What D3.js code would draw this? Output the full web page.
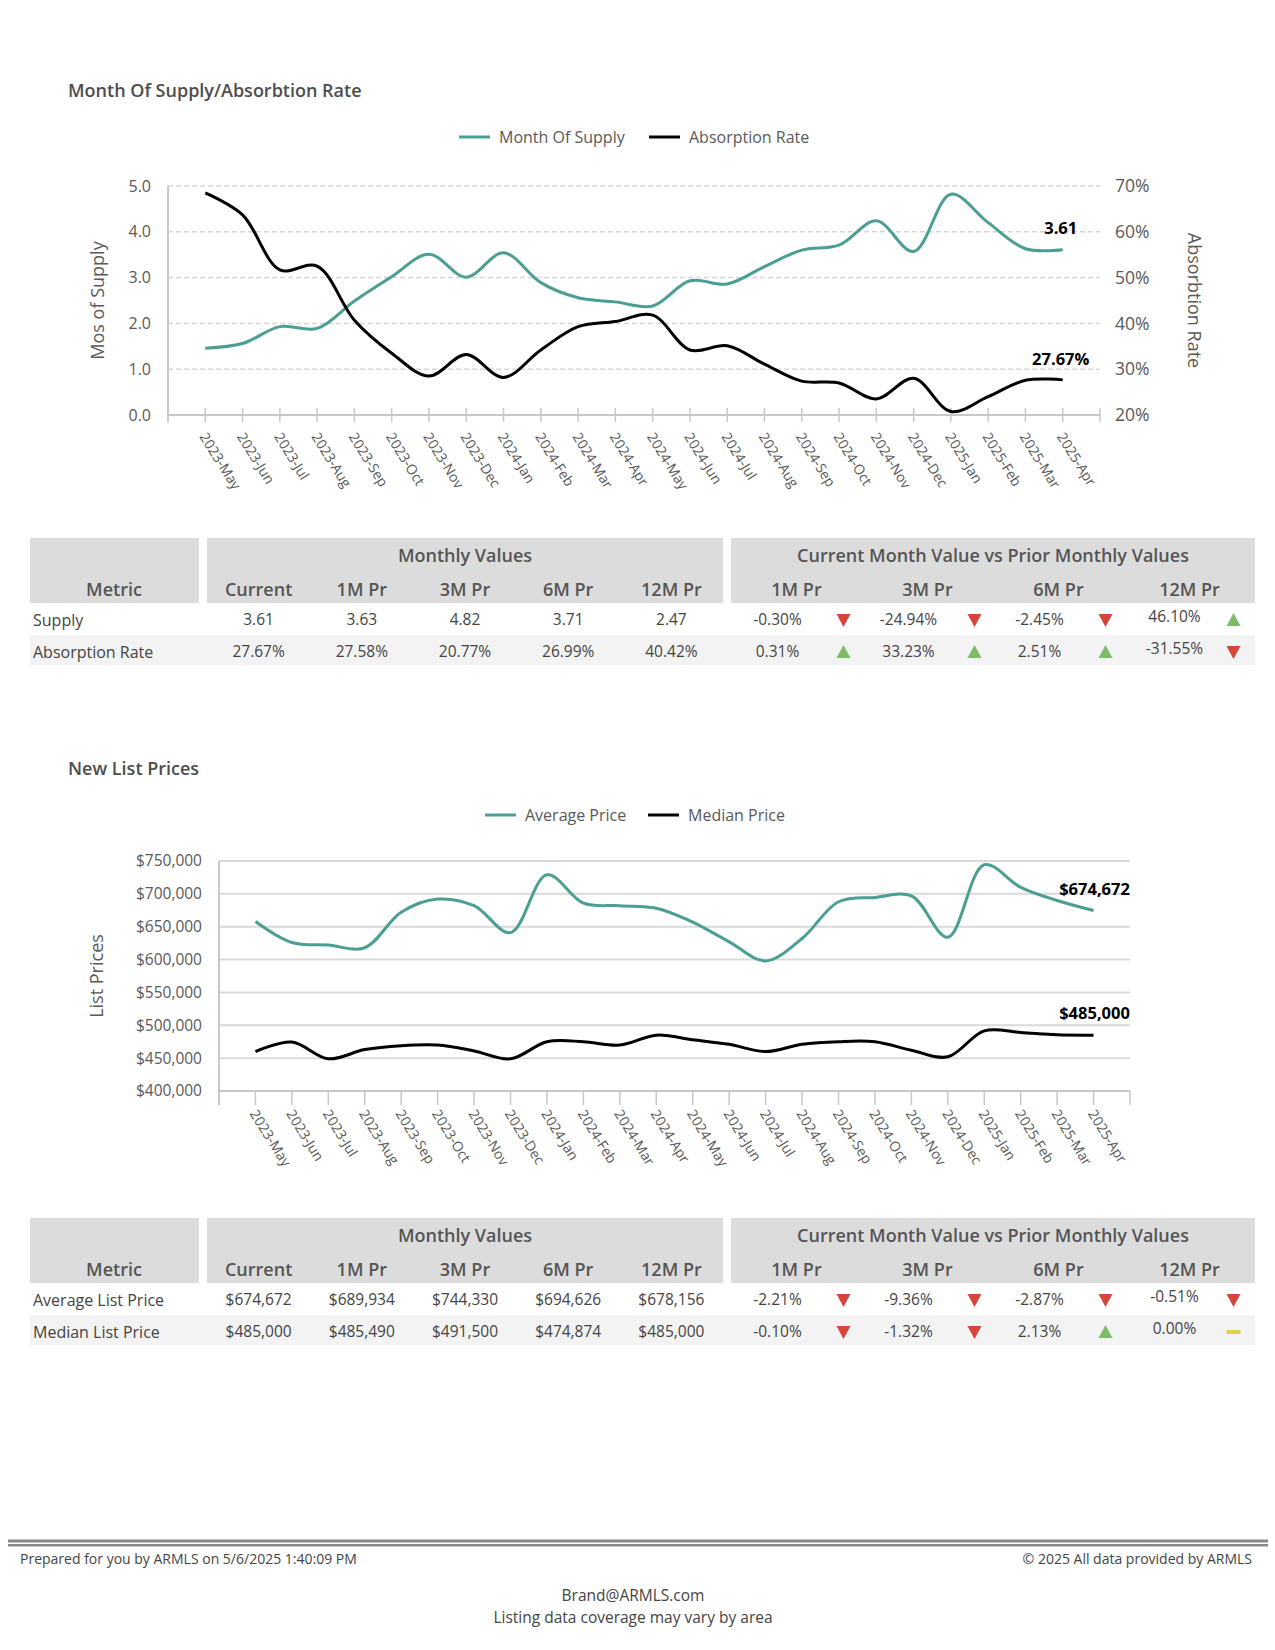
<!DOCTYPE html>
<html>
<head>
<meta charset="utf-8">
<script src="https://cdn.jsdelivr.net/npm/d3@7"></script>
<style>
  body { margin: 0; background: #fff; }
  svg { display: block; font-family: "Open Sans", "Noto Sans", sans-serif; }
</style>
</head>
<body>
<script>
// ---- data ----
let months = ["2023-May","2023-Jun","2023-Jul","2023-Aug","2023-Sep","2023-Oct","2023-Nov","2023-Dec",
  "2024-Jan","2024-Feb","2024-Mar","2024-Apr","2024-May","2024-Jun","2024-Jul","2024-Aug","2024-Sep",
  "2024-Oct","2024-Nov","2024-Dec","2025-Jan","2025-Feb","2025-Mar","2025-Apr"];

let supply = [1.46, 1.56, 1.93, 1.89, 2.49, 3.02, 3.51, 3.01, 3.54, 2.89, 2.56, 2.47,
  2.38, 2.93, 2.86, 3.24, 3.60, 3.71, 4.24, 3.57, 4.82, 4.20, 3.63, 3.61];
let absorption = [68.5, 63.7, 51.7, 52.5, 40.7, 33.5, 28.5, 33.2, 28.2, 34.2, 39.3, 40.42,
  41.8, 34.2, 35.1, 31.1, 27.4, 26.99, 23.5, 28.0, 20.77, 24.0, 27.58, 27.67];

let avgPrice = [658000, 626000, 622000, 618000, 672000, 692000, 682000, 641000, 729000, 686000, 682000, 678156,
  657000, 627000, 598000, 632000, 688000, 694626, 697000, 634000, 744330, 710000, 689934, 674672];
let medPrice = [460000, 474500, 449000, 463000, 469000, 470000, 461000, 449000, 475000, 475000, 470000, 485000,
  478000, 471000, 460000, 471000, 475000, 474874, 462000, 452000, 491500, 489000, 485490, 485000];

let supplyTicks = [0, 1, 2, 3, 4, 5];
let absorbTicks = [20, 30, 40, 50, 60, 70];
let priceTicks = [400000, 450000, 500000, 550000, 600000, 650000, 700000, 750000];

let valueCols = ["Current", "1M Pr", "3M Pr", "6M Pr", "12M Pr"];
let changeCols = ["1M Pr", "3M Pr", "6M Pr", "12M Pr"];

let table1Rows = ["Supply", "Absorption Rate"];
let table1Values = [["3.61", "3.63", "4.82", "3.71", "2.47"],
                    ["27.67%", "27.58%", "20.77%", "26.99%", "40.42%"]];
let table1Changes = [[-0.30, -24.94, -2.45, 46.10],
                     [0.31, 33.23, 2.51, -31.55]];

let table2Rows = ["Average List Price", "Median List Price"];
let table2Values = [["$674,672", "$689,934", "$744,330", "$694,626", "$678,156"],
                    ["$485,000", "$485,490", "$491,500", "$474,874", "$485,000"]];
let table2Changes = [[-2.21, -9.36, -2.87, -0.51],
                     [-0.10, -1.32, 2.13, 0.00]];

let teal = "#4a9e92";
let textCol = "#595959";

let svg = d3.select("body").append("svg")
  .attr("width", 1275).attr("height", 1650);

// ---- helpers ----
function legend(y, items) {
  items.forEach(it => {
    svg.append("line").attr("x1", it.x).attr("x2", it.x + 31).attr("y1", y).attr("y2", y)
      .attr("stroke", it.color).attr("stroke-width", 3);
    svg.append("text").attr("x", it.x + 40).attr("y", y).attr("dy", "0.35em")
      .attr("font-size", 16).attr("fill", textCol).text(it.label);
  });
}

function xAxisLabels(x, y0) {
  months.forEach(m => {
    svg.append("text")
      .attr("transform", `translate(${x(m) - 2},${y0}) rotate(58)`)
      .attr("dy", "0.35em")
      .attr("font-size", 14).attr("fill", textCol).text(m);
  });
}

// ---- chart 1: month of supply / absorption ----
{
  let m = { left: 168, right: 1100, top: 186, bottom: 415 };
  svg.append("text").attr("x", 68).attr("y", 91).attr("dy", "0.35em")
    .attr("font-size", 18).attr("font-weight", 600).attr("fill", "#4d4d4d")
    .text("Month Of Supply/Absorbtion Rate");

  legend(137, [{ x: 459, color: teal, label: "Month Of Supply" },
               { x: 649, color: "#000", label: "Absorption Rate" }]);

  let x = d3.scalePoint().domain(months).range([m.left, m.right]).padding(1);
  let y = d3.scaleLinear().domain([0, 5]).range([m.bottom, m.top]);
  let y2 = d3.scaleLinear().domain([20, 70]).range([m.bottom, m.top]);

  svg.append("g").selectAll("line").data(supplyTicks.slice(1)).join("line")
    .attr("x1", m.left).attr("x2", m.right)
    .attr("y1", d => y(d)).attr("y2", d => y(d))
    .attr("stroke", "#d6d6d6").attr("stroke-width", 1.5).attr("stroke-dasharray", "5,3");

  // axes lines + ticks
  svg.append("line").attr("x1", m.left).attr("x2", m.left).attr("y1", m.top).attr("y2", m.bottom + 7)
    .attr("stroke", "#c8c8c8").attr("stroke-width", 2);
  svg.append("line").attr("x1", m.left).attr("x2", m.right).attr("y1", m.bottom).attr("y2", m.bottom)
    .attr("stroke", "#c8c8c8").attr("stroke-width", 2);
  let tx = months.map(d => x(d)).concat([m.right]);
  svg.append("g").selectAll("line").data(tx).join("line")
    .attr("x1", d => d).attr("x2", d => d).attr("y1", m.bottom - 7).attr("y2", m.bottom + 7)
    .attr("stroke", "#c8c8c8").attr("stroke-width", 1.5);

  svg.append("g").selectAll("text").data(supplyTicks).join("text")
    .attr("x", 151).attr("y", d => y(d)).attr("dy", "0.35em").attr("text-anchor", "end")
    .attr("font-size", 16).attr("fill", textCol).text(d3.format(".1f"));
  svg.append("g").selectAll("text").data(absorbTicks).join("text")
    .attr("x", 1115).attr("y", d => y2(d)).attr("dy", "0.35em")
    .attr("font-size", 17.5).attr("fill", textCol).text(d => d + "%");

  xAxisLabels(x, m.bottom + 19);

  svg.append("text").attr("transform", `translate(98,${(m.top + m.bottom) / 2}) rotate(-90)`)
    .attr("text-anchor", "middle").attr("dy", "0.35em").attr("font-size", 18).attr("fill", textCol)
    .text("Mos of Supply");
  svg.append("text").attr("transform", `translate(1194,${(m.top + m.bottom) / 2}) rotate(90)`)
    .attr("text-anchor", "middle").attr("dy", "0.35em").attr("font-size", 18).attr("fill", textCol)
    .text("Absorbtion Rate");

  let line1 = d3.line().x((d, i) => x(months[i])).y(d => y(d)).curve(d3.curveCatmullRom);
  let line2 = d3.line().x((d, i) => x(months[i])).y(d => y2(d)).curve(d3.curveCatmullRom);
  svg.append("path").datum(supply).attr("d", line1).attr("fill", "none")
    .attr("stroke", teal).attr("stroke-width", 3);
  svg.append("path").datum(absorption).attr("d", line2).attr("fill", "none")
    .attr("stroke", "#000").attr("stroke-width", 3);

  let last = months[months.length - 1];
  svg.append("text").attr("x", x(last) - 2).attr("y", y(supply[supply.length - 1]) - 16)
    .attr("text-anchor", "middle").attr("font-size", 16.5).attr("font-weight", 700)
    .text(supply[supply.length - 1].toFixed(2));
  svg.append("text").attr("x", x(last) - 2).attr("y", y2(absorption[absorption.length - 1]) - 15)
    .attr("text-anchor", "middle").attr("font-size", 16.5).attr("font-weight", 700)
    .text(absorption[absorption.length - 1].toFixed(2) + "%");
}

// ---- chart 2: new list prices ----
{
  let m = { left: 219, right: 1130, top: 861, bottom: 1091 };
  svg.append("text").attr("x", 68).attr("y", 769).attr("dy", "0.35em")
    .attr("font-size", 18).attr("font-weight", 600).attr("fill", "#4d4d4d")
    .text("New List Prices");

  legend(815, [{ x: 485, color: teal, label: "Average Price" },
               { x: 648, color: "#000", label: "Median Price" }]);

  let x = d3.scalePoint().domain(months).range([m.left, m.right]).padding(1);
  let y = d3.scaleLinear().domain([400000, 750000]).range([m.bottom, m.top]);

  svg.append("g").selectAll("line").data(priceTicks.slice(1)).join("line")
    .attr("x1", m.left).attr("x2", m.right)
    .attr("y1", d => y(d)).attr("y2", d => y(d))
    .attr("stroke", "#d9d9d9").attr("stroke-width", 2);

  svg.append("line").attr("x1", m.left).attr("x2", m.left).attr("y1", m.top).attr("y2", m.bottom + 14)
    .attr("stroke", "#c8c8c8").attr("stroke-width", 2);
  svg.append("line").attr("x1", m.left).attr("x2", m.right).attr("y1", m.bottom).attr("y2", m.bottom)
    .attr("stroke", "#c8c8c8").attr("stroke-width", 2);
  let tx = months.map(d => x(d)).concat([m.right]);
  svg.append("g").selectAll("line").data(tx).join("line")
    .attr("x1", d => d).attr("x2", d => d).attr("y1", m.bottom).attr("y2", m.bottom + 14)
    .attr("stroke", "#c8c8c8").attr("stroke-width", 1.5);

  svg.append("g").selectAll("text").data(priceTicks).join("text")
    .attr("x", 202).attr("y", d => y(d)).attr("dy", "0.35em").attr("text-anchor", "end")
    .attr("font-size", 15.5).attr("fill", textCol).text(d3.format("$,"));

  xAxisLabels(x, m.bottom + 20);

  svg.append("text").attr("transform", `translate(97,${(m.top + m.bottom) / 2}) rotate(-90)`)
    .attr("text-anchor", "middle").attr("dy", "0.35em").attr("font-size", 18).attr("fill", textCol)
    .text("List Prices");

  let line = d3.line().x((d, i) => x(months[i])).y(d => y(d)).curve(d3.curveCatmullRom);
  svg.append("path").datum(avgPrice).attr("d", line).attr("fill", "none")
    .attr("stroke", teal).attr("stroke-width", 3);
  svg.append("path").datum(medPrice).attr("d", line).attr("fill", "none")
    .attr("stroke", "#000").attr("stroke-width", 3);

  let last = months[months.length - 1];
  svg.append("text").attr("x", x(last) + 1).attr("y", y(avgPrice[avgPrice.length - 1]) - 16)
    .attr("text-anchor", "middle").attr("font-size", 16.5).attr("font-weight", 700)
    .text(d3.format("$,")(avgPrice[avgPrice.length - 1]));
  svg.append("text").attr("x", x(last) + 1).attr("y", y(medPrice[medPrice.length - 1]) - 16)
    .attr("text-anchor", "middle").attr("font-size", 16.5).attr("font-weight", 700)
    .text(d3.format("$,")(medPrice[medPrice.length - 1]));
}

// ---- tables ----
function drawTable(top, rows, values, changes) {
  let g = svg.append("g");
  let hdr = "#dcdcdc";
  let hH = 65, r1 = 32, r2 = 30;
  g.append("rect").attr("x", 30).attr("y", top).attr("width", 169).attr("height", hH).attr("fill", hdr);
  g.append("rect").attr("x", 207).attr("y", top).attr("width", 516).attr("height", hH).attr("fill", hdr);
  g.append("rect").attr("x", 731).attr("y", top).attr("width", 524).attr("height", hH).attr("fill", hdr);
  g.append("rect").attr("x", 30).attr("y", top + hH + r1).attr("width", 1225).attr("height", r2).attr("fill", "#f3f3f3");

  let cv = d3.scaleBand().domain(valueCols).range([207, 723]);
  let cc = d3.scaleBand().domain(changeCols).range([731, 1255]);
  let hstyle = t => t.attr("font-size", 18).attr("font-weight", 600).attr("fill", "#555")
    .attr("text-anchor", "middle").attr("dy", "0.35em");

  g.append("text").attr("x", 114).attr("y", top + 52).call(hstyle).text("Metric");
  g.append("text").attr("x", 465).attr("y", top + 18).call(hstyle).text("Monthly Values");
  g.append("text").attr("x", 993).attr("y", top + 18).call(hstyle).text("Current Month Value vs Prior Monthly Values");
  valueCols.forEach(c => g.append("text").attr("x", cv(c) + cv.bandwidth() / 2).attr("y", top + 52).call(hstyle).text(c));
  changeCols.forEach(c => g.append("text").attr("x", cc(c) + cc.bandwidth() / 2).attr("y", top + 52).call(hstyle).text(c));

  let rowY = [top + hH + r1 / 2 + 1, top + hH + r1 + r2 / 2 + 2];
  rows.forEach((r, i) => {
    let ry = rowY[i];
    g.append("text").attr("x", 33).attr("y", ry).attr("dy", "0.35em")
      .attr("font-size", 16).attr("fill", "#444").text(r);
    values[i].forEach((v, j) => {
      g.append("text").attr("x", cv(valueCols[j]) + cv.bandwidth() / 2).attr("y", ry).attr("dy", "0.35em")
        .attr("text-anchor", "middle").attr("font-size", 15.5).attr("fill", "#444").text(v);
    });
    changes[i].forEach((v, j) => {
      let cx = cc(changeCols[j]) + cc.bandwidth() / 2;
      let last = j === changeCols.length - 1;
      let ty = last ? ry - 3 : ry;
      g.append("text").attr("x", cx - 19 + (last ? 4 : 0)).attr("y", ty).attr("dy", "0.35em")
        .attr("text-anchor", "middle").attr("font-size", 15.5).attr("fill", "#444")
        .text(v.toFixed(2) + "%");
      let ax = cx + 47 - (last ? 3 : 0);
      if (v > 0) {
        g.append("path").attr("d", `M${ax - 7},${ry + 6}L${ax + 7},${ry + 6}L${ax},${ry - 7}Z`).attr("fill", "#7dbb69");
      } else if (v < 0) {
        g.append("path").attr("d", `M${ax - 7},${ry - 6}L${ax + 7},${ry - 6}L${ax},${ry + 7}Z`).attr("fill", "#d6443a");
      } else {
        g.append("rect").attr("x", ax - 7).attr("y", ry - 2).attr("width", 14).attr("height", 4).attr("fill", "#e5cf4a");
      }
    });
  });
}

drawTable(538, table1Rows, table1Values, table1Changes);
drawTable(1218, table2Rows, table2Values, table2Changes);

// ---- footer ----
svg.append("rect").attr("x", 8).attr("y", 1539.5).attr("width", 1260).attr("height", 3).attr("fill", "#888");
svg.append("rect").attr("x", 8).attr("y", 1544).attr("width", 1260).attr("height", 2.5).attr("fill", "#888");
svg.append("text").attr("x", 20).attr("y", 1559).attr("dy", "0.35em").attr("font-size", 14).attr("fill", "#444")
  .text("Prepared for you by ARMLS on 5/6/2025 1:40:09 PM");
svg.append("text").attr("x", 1252).attr("y", 1559).attr("dy", "0.35em").attr("text-anchor", "end")
  .attr("font-size", 14).attr("fill", "#444").text("© 2025 All data provided by ARMLS");
svg.append("text").attr("x", 633).attr("y", 1596).attr("dy", "0.35em").attr("text-anchor", "middle")
  .attr("font-size", 15.5).attr("fill", "#444").text("Brand@ARMLS.com");
svg.append("text").attr("x", 633).attr("y", 1618).attr("dy", "0.35em").attr("text-anchor", "middle")
  .attr("font-size", 15.5).attr("fill", "#444").text("Listing data coverage may vary by area");
</script>
</body>
</html>
